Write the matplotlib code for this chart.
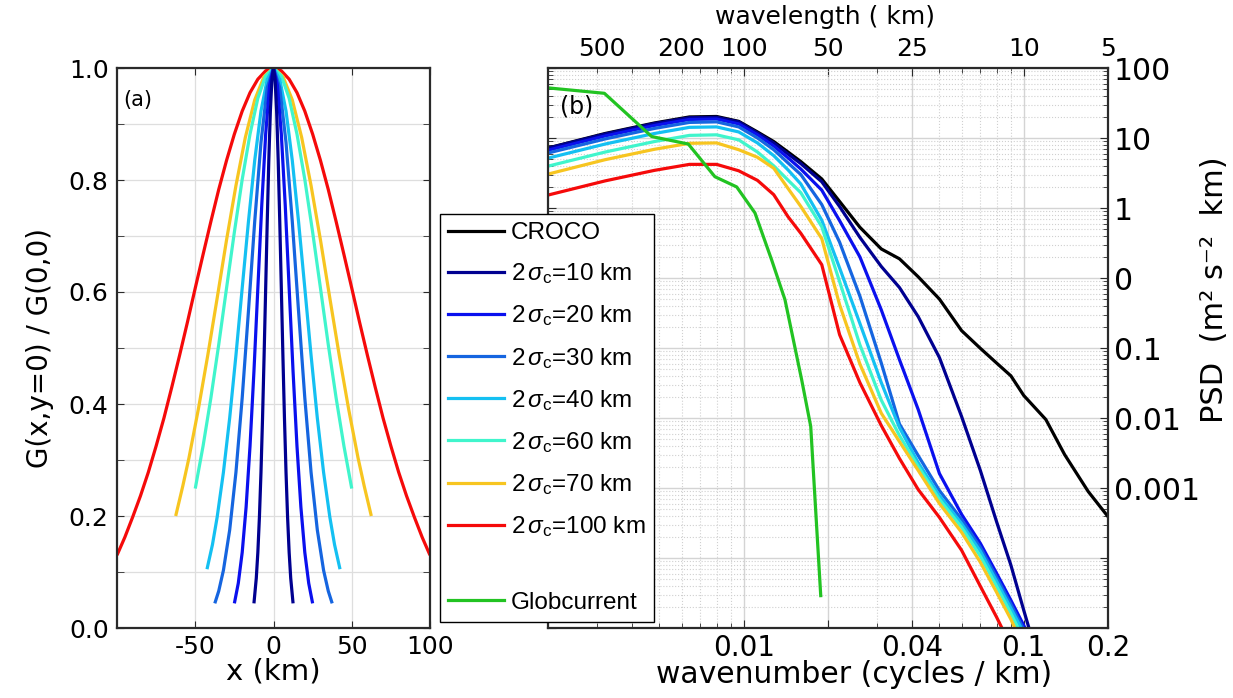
import numpy as np
import matplotlib
matplotlib.use('Agg')
import matplotlib.pyplot as plt
from matplotlib.lines import Line2D
from matplotlib.ticker import LogLocator, NullFormatter, NullLocator, MultipleLocator

plt.rcParams['font.family'] = ['DejaVu Sans']
plt.rcParams['axes.unicode_minus'] = False
plt.rcParams['mathtext.fontset'] = 'custom'
plt.rcParams['mathtext.rm'] = 'Liberation Sans'
plt.rcParams['mathtext.it'] = 'Liberation Sans:italic'

# ---- panel (a): kernel half-profiles (x in km, G normalised) ----
x_10 = [0, 1, 2, 3, 4, 5, 6, 7, 8, 9, 10, 11, 12.5]
g_10 = [1, .980, .923, .835, .726, .607, .487, .375, .278, .198, .135, .089, .044]
x_20 = [0, 2.5, 5, 7.5, 10, 12.5, 15, 17.5, 20, 22.5, 25]
g_20 = [1, .969, .882, .755, .607, .458, .325, .216, .135, .080, .044]
x_30 = [0, 4, 8, 12, 16, 20, 24, 28, 32, 35, 37.5]
g_30 = [1, .965, .867, .726, .566, .411, .278, .175, .103, .066, .044]
x_40 = [0, 4, 8, 12, 16, 20, 24, 28, 32, 36, 39, 42.5]
g_40 = [1, .980, .923, .835, .726, .607, .487, .375, .278, .198, .149, .105]
x_60 = [0, 5, 10, 15, 20, 25, 30, 35, 40, 45, 50]
g_60 = [1, .986, .946, .882, .801, .707, .607, .506, .411, .325, .249]
x_70 = [0, 6, 12, 18, 24, 30, 36, 42, 48, 54, 58, 62.5]
g_70 = [1, .985, .943, .876, .790, .693, .589, .487, .391, .304, .253, .200]
x_100 = [0, 5, 10, 15, 20, 25, 30, 35, 40, 45, 50, 55, 60, 65, 70, 75, 80, 85, 90, 95, 100]
g_100 = [1, .995, .980, .956, .923, .882, .835, .783, .726, .667, .607, .546, .487,
         .430, .375, .325, .278, .236, .198, .162, .130]

# ---- panel (b): spectra (wavenumber in cycles/km, PSD) ----
k_grid = [0.002, 0.0032, 0.0048, 0.0064, 0.008, 0.0096, 0.0112, 0.0128, 0.0144, 0.016,
          0.019, 0.022, 0.026, 0.031, 0.036, 0.042, 0.05, 0.06, 0.07, 0.08, 0.09, 0.1,
          0.12, 0.14, 0.17, 0.2]

psd_croco = [7.2, 11.6, 16.4, 20.0, 20.3, 17.3, 12.2, 8.9, 6.3, 4.6, 2.6, 1.24, 0.53, 0.26,
             0.188, 0.104, 0.050, 0.0177, 0.0099, 0.0061, 0.0040, 0.0021, 0.00095, 0.00030,
             8.9e-5, 3.9e-5]
psd_10 = [7.16, 11.4, 16.1, 19.5, 19.8, 17.0, 11.8, 8.5, 5.9, 4.3, 2.37, 1.05, 0.38, 0.146,
          0.073, 0.028, 0.0073, 0.00105, 0.000178, 3.3e-5, 7.9e-6, 1.8e-6]
psd_20 = [6.7, 10.7, 15.1, 18.4, 18.7, 15.9, 11.1, 7.7, 5.2, 3.6, 1.8, 0.66, 0.20, 0.035,
          0.0068, 0.00132, 0.000161, 4.2e-5, 1.62e-5, 6.05e-6, 2.49e-6]
psd_30 = [6.1, 9.7, 13.7, 16.7, 17.0, 14.4, 10.0, 6.8, 4.4, 3.0, 1.12, 0.325, 0.055, 0.0061,
          0.00082, 0.00029, 9.2e-5, 3.56e-5, 1.42e-5, 5.3e-6, 2.18e-6]
psd_40 = [5.15, 8.2, 11.6, 14.2, 14.4, 12.2, 8.5, 5.6, 3.5, 2.2, 0.67, 0.139, 0.0224, 0.0032,
          0.00073, 0.00023, 7.8e-5, 3.1e-5, 1.25e-5, 4.66e-6, 1.91e-6]
psd_60 = [3.96, 6.3, 8.9, 10.9, 11.1, 9.4, 6.3, 4.0, 2.5, 1.65, 0.54, 0.089, 0.0111, 0.0018,
          0.00056, 0.000203, 6.9e-5, 2.74e-5, 1.06e-5, 3.95e-6, 1.62e-6]
psd_70 = [3.05, 4.9, 6.9, 8.4, 8.5, 6.8, 5.3, 3.7, 1.9, 1.05, 0.365, 0.0416, 0.0059, 0.00117,
          0.00046, 0.000178, 6.0e-5, 2.33e-5, 8.7e-6, 3.24e-6, 1.33e-6]
psd_100 = [1.53, 2.44, 3.45, 4.2, 4.2, 3.4, 2.48, 1.55, 0.75, 0.434, 0.155, 0.0155, 0.0032,
           0.00078, 0.000264, 9.5e-5, 3.8e-5, 1.29e-5, 3.95e-6, 1.43e-6]
# wavenumber where each filtered spectrum reaches the bottom of the axis (1e-6)
k_floor = [0.1044, 0.1011, 0.0994, 0.0979, 0.0954, 0.0930, 0.0836]

k_glob = [0.002, 0.00318, 0.00469, 0.00634, 0.00789, 0.00944, 0.01097, 0.01259, 0.01404,
          0.01611, 0.01735, 0.01884]
psd_glob = [52, 43.5, 10.5, 8.2, 2.8, 2.0, 0.85, 0.18, 0.049, 0.0035, 0.00076, 2.9e-6]

widths = [10, 20, 30, 40, 60, 70, 100]
colors = ['#000090', '#0a10ee', '#1565e0', '#14c0f2', '#40f5cc', '#f7c520', '#f50a0a']
half_x = [x_10, x_20, x_30, x_40, x_60, x_70, x_100]
half_g = [g_10, g_20, g_30, g_40, g_60, g_70, g_100]
spectra = [psd_10, psd_20, psd_30, psd_40, psd_60, psd_70, psd_100]

top_labels = ['500', '200', '100', '50', '25', '10', '5']
top_pos = [0.00312, 0.00597, 0.01, 0.02, 0.04, 0.1, 0.2]

spine_col = '#2a2a2a'
W, H = 1233, 698
fig = plt.figure(figsize=(W / 100, H / 100), dpi=100)
ax1 = fig.add_axes([117 / W, 1 - 628 / H, 313 / W, 560 / H])
ax2 = fig.add_axes([548 / W, 1 - 628 / H, 560 / W, 560 / H])

# ---------------- panel (a) ----------------
for xh, gh, c in reversed(list(zip(half_x, half_g, colors))):
    xh = np.array(xh, dtype=float)
    gh = np.array(gh, dtype=float)
    xs = np.concatenate([-xh[::-1], xh[1:]])
    gs = np.concatenate([gh[::-1], gh[1:]])
    ax1.plot(xs, gs, color=c, lw=2.3, solid_capstyle='butt')

ax1.set_xlim(-100, 100)
ax1.set_ylim(0, 1)
ax1.set_xticks([-50, 0, 50, 100])
ax1.set_yticks(np.arange(0, 1.01, 0.2))
ax1.set_yticklabels(['0.0', '0.2', '0.4', '0.6', '0.8', '1.0'])
ax1.yaxis.set_minor_locator(MultipleLocator(0.1))
ax1.grid(True, which='both', color='#dedede', lw=0.9)
ax1.set_axisbelow(True)
ax1.tick_params(which='both', direction='in', top=True, right=True, labelsize=18,
                length=5, color=spine_col)
ax1.tick_params(axis='x', pad=5)
ax1.tick_params(axis='y', pad=6)
ax1.set_xlabel('x (km)', fontsize=21)
ax1.xaxis.set_label_coords(0.5, -0.052)
ax1.set_ylabel('G(x,y=0) / G(0,0)', fontsize=20)
ax1.yaxis.set_label_coords(-0.2, 0.5)
ax1.text(0.02, 0.943, '(a)', transform=ax1.transAxes, fontsize=15, va='center')
for s in ax1.spines.values():
    s.set_color(spine_col)
    s.set_linewidth(1.6)

# ---------------- panel (b) ----------------
handles = []
h, = ax2.plot(k_grid, psd_croco, color='black', lw=2.3, label='CROCO')
handles.append(h)
for w, c, p, kf in zip(widths, colors, spectra, k_floor):
    kk = list(k_grid[:len(p)]) + [kf]
    pp = list(p) + [1e-6]
    h, = ax2.plot(kk, pp, color=c, lw=2.3, label=r'2$\,\sigma_{\mathrm{c}}$=%d km' % w)
    handles.append(h)
hg, = ax2.plot(k_glob, psd_glob, color='#22c322', lw=2.3, label='Globcurrent')

ax2.set_xscale('log')
ax2.set_yscale('log')
ax2.set_xlim(0.002, 0.2)
ax2.set_ylim(1e-6, 1e2)
ax2.set_xticks([0.01, 0.02, 0.04, 0.1, 0.2])
ax2.set_xticklabels(['0.01', '', '0.04', '0.1', '0.2'])
ax2.xaxis.set_minor_locator(LogLocator(base=10, subs=np.arange(2, 10), numticks=20))
ax2.xaxis.set_minor_formatter(NullFormatter())
ax2.set_yticks([1e2, 1e1, 1e0, 1e-1, 1e-2, 1e-3, 1e-4, 1e-5, 1e-6])
ax2.set_yticklabels(['100', '10', '1', '0', '0.1', '0.01', '0.001', '', ''])
ax2.yaxis.set_minor_locator(LogLocator(base=10, subs=np.arange(2, 10), numticks=20))
ax2.yaxis.set_minor_formatter(NullFormatter())
ax2.grid(True, which='major', color='#d4d4d4', lw=1.0)
ax2.grid(True, which='minor', color='#d0d0d0', lw=0.8, ls=':')
ax2.set_axisbelow(True)
ax2.tick_params(which='both', direction='in', top=True, right=True, left=True,
                labelleft=False, labelright=True, color=spine_col)
ax2.tick_params(which='major', length=6)
ax2.tick_params(which='minor', length=3.5)
ax2.tick_params(axis='x', labelsize=20, pad=4)
ax2.tick_params(axis='y', labelsize=21.5, pad=4)
ax2.set_xlabel('wavenumber (cycles / km)', fontsize=21.5)
ax2.xaxis.set_label_coords(0.546, -0.057)
ax2.yaxis.set_label_position('right')
ax2.set_ylabel('PSD  (m² s⁻²  km)', fontsize=22)
ax2.yaxis.set_label_coords(1.164, 0.604)
ax2.text(0.021, 0.932, '(b)', transform=ax2.transAxes, fontsize=17, va='center')
for s in ax2.spines.values():
    s.set_color(spine_col)
    s.set_linewidth(1.6)

secax = ax2.secondary_xaxis('top')
secax.set_xticks(top_pos)
secax.set_xticklabels(top_labels)
secax.xaxis.set_minor_locator(NullLocator())
secax.tick_params(which='both', length=0, labelsize=18, pad=5)
secax.spines['top'].set_visible(False)
fig.text(825 / W, 1 - 5 / H, 'wavelength ( km)', fontsize=18, ha='center', va='top')

# ---------------- legend ----------------
blank = Line2D([], [], color='none')
leg_handles = handles + [blank, hg]
leg_labels = [hh.get_label() for hh in handles] + [' ', 'Globcurrent']
leg = fig.legend(leg_handles, leg_labels, loc='upper left',
                 bbox_to_anchor=(440 / W, 1 - 214 / H), bbox_transform=fig.transFigure,
                 borderaxespad=0, fancybox=False, framealpha=1, edgecolor='black',
                 prop={'family': 'Liberation Sans', 'size': 17.5}, handlelength=2.3,
                 handletextpad=0.3, labelspacing=0.71, borderpad=0.33)
leg.get_frame().set_linewidth(1.0)
leg.get_texts()[8].set_fontsize(2)

fig.savefig('out.png', dpi=100)
